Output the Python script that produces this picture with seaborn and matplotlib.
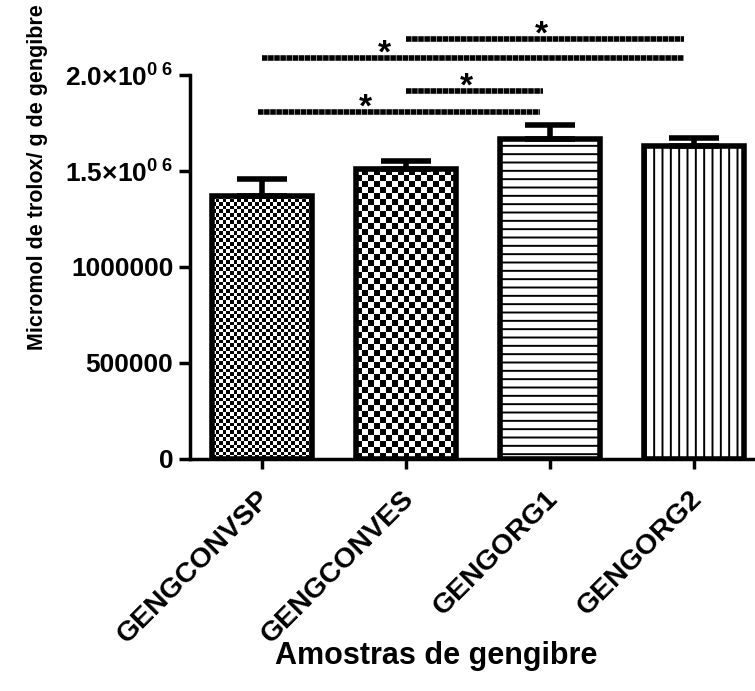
import numpy as np
import matplotlib
matplotlib.use("Agg")
import matplotlib.pyplot as plt
import matplotlib.transforms as mtransforms
import seaborn as sns

# ---- data ----
categories = ["GENGCONVSP", "GENGCONVES", "GENGORG1", "GENGORG2"]
means = [1370000, 1510000, 1667000, 1630000]
sem_upper = [90000, 40000, 72000, 42000]
ytick_values = [0, 500000, 1000000, 1500000, 2000000]
ytick_labels = ["0", "500000", "1000000", r"1.5×10$^{0\;6}$", r"2.0×10$^{0\;6}$"]
# significance brackets: (x start, x end, y level), star x
sig_x0 = [1.0, 0.0, 1.0, -0.03]
sig_x1 = [2.93, 2.93, 1.95, 1.93]
sig_y = [2187500, 2089000, 1917000, 1807000]
sig_star_x = [1.94, 0.85, 1.42, 0.72]
sig_text = ["*", "*", "*", "*"]
xlabel = "Amostras de gengibre"
ylabel = "Micromol de trolox/ g de gengibre"

sns.set_style("ticks")
plt.rcParams["font.family"] = ["Liberation Sans", "DejaVu Sans"]
plt.rcParams["font.weight"] = "bold"
plt.rcParams["text.color"] = "black"
plt.rcParams["axes.labelcolor"] = "black"
plt.rcParams["xtick.color"] = "black"
plt.rcParams["ytick.color"] = "black"
plt.rcParams["axes.edgecolor"] = "black"
plt.rcParams["mathtext.fontset"] = "custom"
plt.rcParams["mathtext.rm"] = "Liberation Sans:bold"
plt.rcParams["mathtext.bf"] = "Liberation Sans:bold"
plt.rcParams["mathtext.it"] = "Liberation Sans:bold"
plt.rcParams["mathtext.sf"] = "Liberation Sans:bold"
plt.rcParams["hatch.linewidth"] = 1.4
plt.rcParams["hatch.color"] = "black"

W, H = 755, 691
fig = plt.figure(figsize=(W / 100, H / 100), dpi=100)
ax = fig.add_axes([190 / W, 1 - 459 / H, (766 - 190) / W, (459 - 75) / H])

sns.barplot(x=categories, y=means, ax=ax, width=0.7, color="white",
            edgecolor="black", linewidth=4, errorbar=None, saturation=1)

ax.set_xlim(-0.5, 3.5)
ax.set_ylim(0, 2000000)

ax.errorbar(x=np.arange(len(categories)), y=means,
            yerr=[np.zeros(len(means)), sem_upper], fmt="none",
            ecolor="black", elinewidth=4, capsize=18, capthick=4, zorder=3)

bars = list(ax.containers[0])
hatches = [None, None, "--", "||"]
checker_cell = [3.6, 6.0, None, None]
for bar, h, cell in zip(bars, hatches, checker_cell):
    bar.set_zorder(2)
    bar.set_edgecolor("black")
    if h:
        bar.set_hatch(h)
    if cell:
        bar.set_facecolor("none")
        bb = bar.get_bbox()
        (px0, py0), (px1, py1) = ax.transData.transform([(bb.x0, bb.y0), (bb.x1, bb.y1)])
        ncol = max(1, int(round((px1 - px0) / cell)))
        nrow = max(1, int(round((py1 - py0) / cell)))
        board = (np.indices((nrow, ncol)).sum(axis=0) % 2).astype(float)
        im = ax.imshow(board, extent=(bb.x0, bb.x1, bb.y0, bb.y1), origin="lower",
                       cmap="gray", vmin=0, vmax=1, interpolation="nearest",
                       aspect="auto", zorder=1.5)
        im.set_clip_path(bar)

ax.set_xlim(-0.5, 3.5)
ax.set_ylim(0, 2000000)

# significance lines
for x0, x1, y, sx, t in zip(sig_x0, sig_x1, sig_y, sig_star_x, sig_text):
    ax.plot([x0, x1], [y, y], color="black", lw=4, linestyle=(0, (1.0, 0.1)),
            clip_on=False, zorder=4, dash_capstyle="butt")
    ax.text(sx, y, t, ha="center", va="baseline", fontsize=24, fontweight="bold",
            clip_on=False, zorder=4,
            transform=ax.transData + mtransforms.ScaledTranslation(0, -0.05, fig.dpi_scale_trans))

sns.despine(ax=ax)
for s in ["left", "bottom"]:
    ax.spines[s].set_linewidth(2.5)
    ax.spines[s].set_color("black")

ax.set_yticks(ytick_values)
ax.set_yticklabels(ytick_labels, fontsize=19, fontweight="bold")
ax.tick_params(axis="y", length=8, width=2.5, pad=4)
ax.set_xticks(range(len(categories)))
ax.set_xticklabels(categories, rotation=45, ha="right", va="center",
                   rotation_mode="anchor", fontsize=20.5, fontweight="bold")
ax.tick_params(axis="x", length=7, width=2.5, pad=19)
off = mtransforms.ScaledTranslation(0.04, 0, fig.dpi_scale_trans)
for lab in ax.get_xticklabels():
    lab.set_transform(lab.get_transform() + off)

ax.set_xlabel("")
ax.set_ylabel("")
fig.text(436 / W, 1 - 656 / H, xlabel, ha="center", va="center",
         fontsize=22, fontweight="bold")
fig.text(38 / W, 1 - 177 / H, ylabel, ha="center", va="center", rotation=90,
         fontsize=15.5, fontweight="bold")

fig.savefig("out.png", dpi=100)
